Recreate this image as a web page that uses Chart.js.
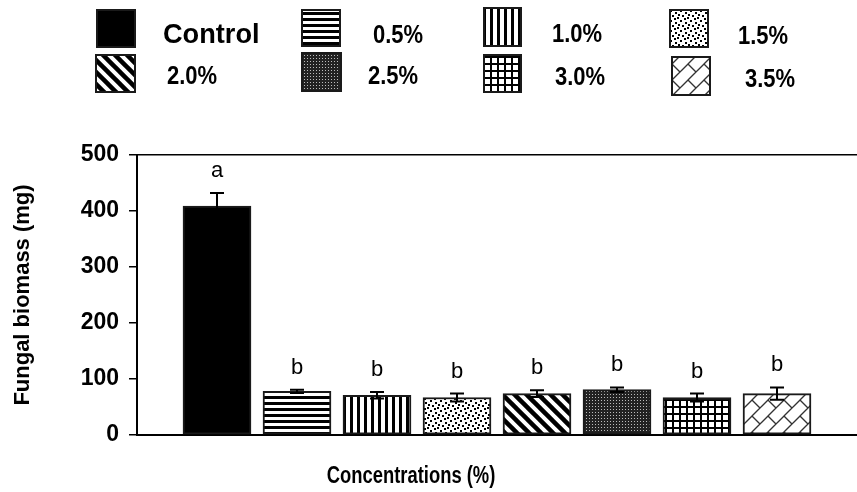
<!DOCTYPE html>
<html>
<head>
<meta charset="utf-8">
<script src="https://cdn.jsdelivr.net/npm/chart.js"></script>
<style>
  body { margin: 0; background: #fff; }
  #wrap { width: 857px; height: 492px; }
</style>
</head>
<body>
<div id="wrap"><canvas id="grafico"></canvas></div>
<script>
const categorias = ["Control", "0.5%", "1.0%", "1.5%", "2.0%", "2.5%", "3.0%", "3.5%"]
const biomassa = [409, 78, 71, 67, 74, 81, 67, 74]
const erros = [23, 3, 6, 7, 6, 4, 7, 11]
const letras = ["a", "b", "b", "b", "b", "b", "b", "b"]
const yTicks = [0, 100, 200, 300, 400, 500]

const tipos = ["solid", "hlines", "vlines", "dots", "diag", "dense", "grid", "weave"]

function padrao(tipo) {
  const c = document.createElement('canvas')
  let s = 12
  if (tipo == "hlines") s = 6
  if (tipo == "vlines") s = 7
  if (tipo == "dots") s = 10
  if (tipo == "dense") s = 3
  if (tipo == "grid") s = 7
  if (tipo == "weave") s = 16
  c.width = s; c.height = s
  const g = c.getContext('2d')
  g.fillStyle = '#fff'
  g.fillRect(0, 0, s, s)
  g.fillStyle = '#000'
  g.strokeStyle = '#000'
  if (tipo == "solid") g.fillRect(0, 0, s, s)
  if (tipo == "hlines") g.fillRect(0, 0, s, 3)
  if (tipo == "vlines") g.fillRect(0, 0, 3, s)
  if (tipo == "dots") {
    [[0,0],[5,2],[2,5],[7,7],[8,4],[4,8]].forEach(p => g.fillRect(p[0], p[1], 2, 2))
  }
  if (tipo == "diag") {
    g.lineWidth = 4.5
    for (let k = -1; k <= 1; k++) {
      g.beginPath(); g.moveTo(k*s - 2, -2); g.lineTo(k*s + s + 2, s + 2); g.stroke()
    }
  }
  if (tipo == "dense") {
    g.fillStyle = '#222'
    g.fillRect(0, 0, s, s)
    g.fillStyle = '#bbb'
    g.fillRect(1, 1, 1, 1)
  }
  if (tipo == "grid") {
    g.fillRect(0, 0, s, 2)
    g.fillRect(0, 0, 2, s)
  }
  if (tipo == "weave") {
    g.strokeStyle = '#333'
    g.lineWidth = 1.3
    for (let k = -1; k <= 1; k++) {
      g.beginPath(); g.moveTo(k*s - 1, s + 1); g.lineTo(k*s + s + 1, -1); g.stroke()
    }
    g.beginPath(); g.moveTo(0, 0); g.lineTo(8, 8); g.stroke()
  }
  return document.getElementById('grafico').getContext('2d').createPattern(c, 'repeat')
}

const padroes = tipos.map(padrao)

// legenda: caixa x,y,w,h / texto x,y / tamanho da fonte
const legendaPos = [
  [97, 10, 38, 37, 163, 35, 28],
  [302, 10, 38, 36, 373, 36, 25],
  [484, 8, 37, 38, 552, 35, 25],
  [670, 10, 38, 37, 738, 37, 25],
  [96, 55, 39, 37, 167, 77, 25],
  [302, 53, 39, 38, 368, 77, 25],
  [484, 55, 37, 37, 555, 78, 25],
  [672, 57, 38, 38, 745, 80, 25]
]

function textoEstreito(g, txt, x, y, sx) {
  g.save()
  g.translate(x, y)
  g.scale(sx, 1)
  g.fillText(txt, 0, 0)
  g.restore()
}

const extras = {
  id: 'extras',
  afterDatasetsDraw(chart) {
    const g = chart.ctx
    const y = chart.scales.y
    const meta = chart.getDatasetMeta(0)
    g.save()
    g.strokeStyle = '#000'
    g.lineWidth = 2
    meta.data.forEach((bar, i) => {
      const yt = y.getPixelForValue(biomassa[i] + erros[i])
      const yb = y.getPixelForValue(biomassa[i] - erros[i])
      g.beginPath()
      g.moveTo(bar.x, yb); g.lineTo(bar.x, yt)
      g.moveTo(bar.x - 7, yt); g.lineTo(bar.x + 7, yt)
      g.moveTo(bar.x - 7, yb); g.lineTo(bar.x + 7, yb)
      g.stroke()
      g.fillStyle = '#000'
      g.font = '22px "Liberation Sans", Arial, sans-serif'
      g.textAlign = 'center'
      g.textBaseline = 'middle'
      g.fillText(letras[i], bar.x, yt - 22)
    })
    g.restore()
  },
  afterDraw(chart) {
    const g = chart.ctx
    g.save()
    legendaPos.forEach((p, i) => {
      g.fillStyle = padroes[i]
      g.fillRect(p[0], p[1], p[2], p[3])
      g.strokeStyle = '#1a1a1a'
      g.lineWidth = 2
      g.strokeRect(p[0], p[1], p[2], p[3])
      g.fillStyle = '#000'
      g.font = 'bold ' + p[6] + 'px "Liberation Sans", Arial, sans-serif'
      g.textAlign = 'left'
      g.textBaseline = 'middle'
      textoEstreito(g, categorias[i], p[4], p[5], i == 0 ? 0.97 : 0.88)
    })
    g.font = 'bold 23px "Liberation Sans", Arial, sans-serif'
    g.textAlign = 'center'
    g.textBaseline = 'middle'
    textoEstreito(g, 'Concentrations (%)', 411, 477, 0.8)
    g.restore()
  }
}

const ctx = document.getElementById('grafico')

let grafico = new Chart(ctx, {
  type: 'bar',
  data: {
    datasets: [{
      label: 'Fungal biomass',
      data: biomassa.map((v, i) => ({ x: i + 1, y: v })),
      backgroundColor: padroes,
      borderColor: '#1a1a1a',
      borderWidth: 2,
      borderSkipped: false,
      barThickness: 68
    }]
  },
  options: {
    responsive: true,
    maintainAspectRatio: false,
    animation: false,
    layout: { padding: { top: 155, bottom: 57, left: 0, right: 0 } },
    plugins: { legend: { display: false }, tooltip: { enabled: false } },
    scales: {
      x: {
        type: 'linear',
        offset: false,
        min: 0,
        max: 9,
        ticks: { display: false },
        grid: { display: false, drawTicks: false },
        border: { color: '#000', width: 2 }
      },
      y: {
        min: 0,
        max: 500,
        afterBuildTicks: s => { s.ticks = yTicks.map(v => ({ value: v })) },
        afterFit: s => { s.width = 137 },
        ticks: {
          color: '#000',
          padding: 10,
          font: { family: '"Liberation Sans", Arial, sans-serif', size: 23, weight: 'bold' }
        },
        grid: {
          color: c => c.tick && c.tick.value == 500 ? '#000' : 'rgba(0,0,0,0)',
          tickColor: '#000',
          tickLength: 8,
          lineWidth: 1.5
        },
        border: { color: '#000', width: 2 },
        title: {
          display: true,
          text: 'Fungal biomass (mg)',
          color: '#000',
          padding: { top: 10, bottom: 0 },
          font: { family: '"Liberation Sans", Arial, sans-serif', size: 22, weight: 'bold' }
        }
      }
    }
  },
  plugins: [extras]
})
</script>
</body>
</html>
